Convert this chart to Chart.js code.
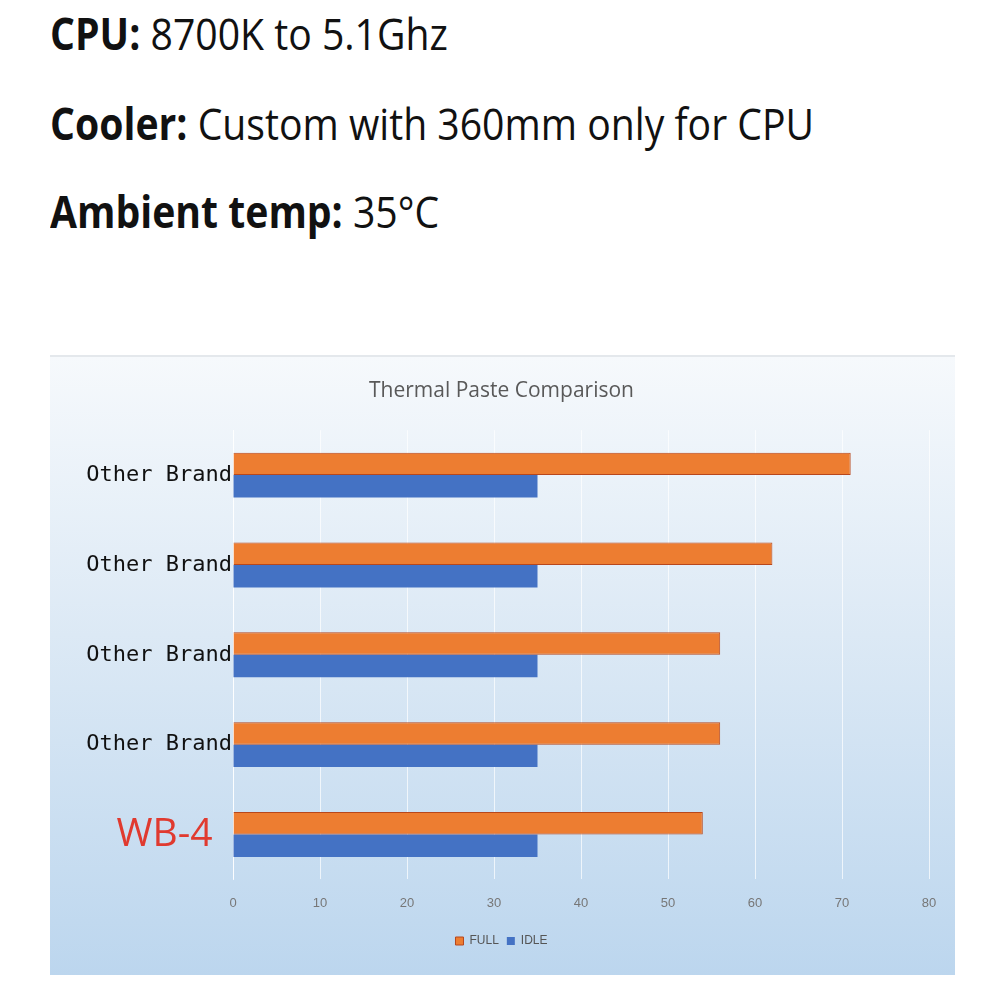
<!DOCTYPE html>
<html>
<head>
<meta charset="utf-8">
<script src="https://cdn.jsdelivr.net/npm/chart.js@4/dist/chart.umd.min.js"></script>
<style>
  body { margin: 0; background: #fff; width: 1001px; height: 1001px; position: relative; overflow: hidden; }
  .spec { position: absolute; left: 50px; font-family: "Open Sans", sans-serif; font-size: 44px; line-height: 1;
          color: #111; white-space: nowrap; transform: scaleX(0.89); transform-origin: left top; }
  .spec b { font-weight: 700; }
  #box { position: absolute; left: 50px; top: 355px; width: 905px; height: 618px;
         background: linear-gradient(to bottom, #f6f9fc 0%, #dce9f5 45%, #bcd6ee 100%);
         border-top: 2px solid #e4e8ec; }
</style>
</head>
<body>
<div class="spec" style="top:11px"><b>CPU:</b> 8700K to 5.1Ghz</div>
<div class="spec" style="top:101px"><b>Cooler:</b> Custom with 360mm only for CPU</div>
<div class="spec" style="top:189px"><b>Ambient temp:</b> 35°C</div>
<div id="box"><canvas id="chart"></canvas></div>
<script>
// values (°C)
const categories = ["Other Brand", "Other Brand", "Other Brand", "Other Brand", "WB-4"];
const fullLoad = [71, 62, 56, 56, 54];
const idleLoad = [35, 35, 35, 35, 35];

const canvasEl = document.getElementById("chart");
canvasEl.width = 905;
canvasEl.height = 618;
const ctx = canvasEl.getContext("2d");

new Chart(ctx, {
  type: "bar",
  data: {
    labels: categories,
    datasets: [
      { label: "FULL", data: fullLoad, backgroundColor: "#ed7d31", borderColor: "#b8471c", borderWidth: 1 },
      { label: "IDLE", data: idleLoad, backgroundColor: "#4472c4", borderColor: "#4472c4", borderWidth: 0 }
    ]
  },
  options: {
    indexAxis: "y",
    responsive: false,
    animation: false,
    layout: { padding: { left: 24, right: 26, top: 21, bottom: 18 } },
    datasets: { bar: { categoryPercentage: 0.5, barPercentage: 1.0 } },
    plugins: {
      title: {
        display: true,
        text: "Thermal Paste Comparison",
        color: "#595959",
        font: { family: "'Liberation Sans Narrow', 'Open Sans', sans-serif", size: 21, weight: "normal" },
        padding: { top: 0, bottom: 27 }
      },
      legend: {
        position: "bottom",
        labels: {
          boxWidth: 8, boxHeight: 8, color: "#555", padding: 8,
          font: { family: "'Liberation Sans Narrow', sans-serif", size: 12 }
        }
      },
      tooltip: { enabled: false }
    },
    scales: {
      x: {
        min: 0, max: 80,
        ticks: { stepSize: 10, color: "#777", padding: 16,
                 font: { family: "'Liberation Sans Narrow', sans-serif", size: 13 } },
        grid: { color: "rgba(255,255,255,0.7)", drawTicks: false },
        border: { display: false }
      },
      y: {
        afterFit: (scale) => { scale.width = 159; },
        ticks: {
          padding: 1,
          callback: function (v) {
            const name = this.getLabelForValue(v);
            return name === "WB-4" ? name + "\u2002" : name;
          },
          color: (c) => categories[c.index] === "WB-4" ? "#e03a2f" : "#111",
          font: (c) => categories[c.index] === "WB-4"
            ? { family: "'Open Sans', sans-serif", size: 39 }
            : { family: "'DejaVu Sans Mono', monospace", size: 22 }
        },
        grid: { display: false, drawTicks: false },
        border: { display: true, color: "rgba(255,255,255,0.8)" }
      }
    }
  }
});
</script>
</body>
</html>
